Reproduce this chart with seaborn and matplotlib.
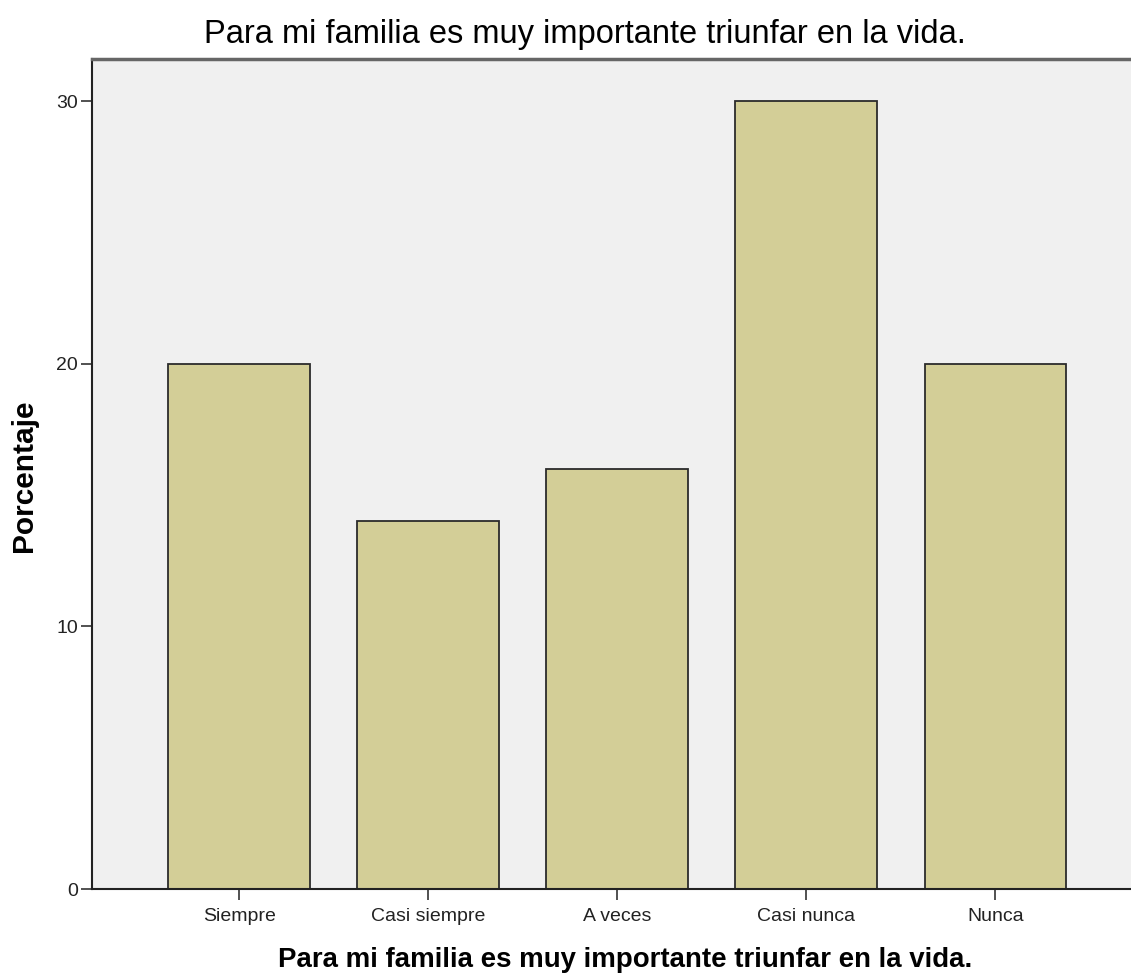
import seaborn as sns
import matplotlib
matplotlib.use("Agg")
import matplotlib.pyplot as plt
import pandas as pd

# Datos (porcentajes)
categorias = ["Siempre", "Casi siempre", "A veces", "Casi nunca", "Nunca"]
porcentajes = [20, 14, 16, 30, 20]
ticks_y = [0, 10, 20, 30]
titulo = "Para mi familia es muy importante triunfar en la vida."

df = pd.DataFrame({"Respuesta": categorias, "Porcentaje": porcentajes})

sns.set_style("ticks")
plt.rcParams["font.family"] = ["Liberation Sans", "DejaVu Sans"]

fig = plt.figure(figsize=(11.31, 9.8), dpi=100)
ax = fig.add_axes([92 / 1131, 91 / 980, 1 - 92 / 1131, (889 - 59) / 980])
ax.set_facecolor("#f0f0f0")

sns.barplot(x="Respuesta", y="Porcentaje", data=df, order=categorias,
            color="#d3ce97", saturation=1, width=0.75,
            edgecolor="#2b2b2b", linewidth=1.3, ax=ax)

ax.set_xlim(-0.778, 4.717)
ax.set_ylim(0, 31.6)
ax.set_yticks(ticks_y)
ax.set_yticklabels([str(t) for t in ticks_y], fontsize=14)
ax.tick_params(axis="x", labelsize=14, length=8, width=1.2, color="#333333", pad=6)
ax.tick_params(axis="y", length=8, width=1.2, color="#333333", pad=2)
for lab in ax.get_xticklabels() + ax.get_yticklabels():
    lab.set_color("#222222")

for lado in ["left", "bottom"]:
    ax.spines[lado].set_color("#222222")
    ax.spines[lado].set_linewidth(1.5)
ax.spines["top"].set_color("#666666")
ax.spines["top"].set_linewidth(2.5)
ax.spines["right"].set_visible(False)

ax.set_xlabel("")
ax.set_ylabel("")

fig.text(585 / 1131, 1 - 35 / 980, titulo, ha="center", va="center",
         fontsize=23.5, color="black")
fig.text(625 / 1131, 1 - 960 / 980, titulo, ha="center", va="center",
         fontsize=19.9, fontweight="bold", color="black")
fig.text(24 / 1131, 1 - 476 / 980, "Porcentaje", ha="center", va="center",
         rotation=90, fontsize=21.5, fontweight="bold", color="black")

fig.savefig("out.png", dpi=100)
